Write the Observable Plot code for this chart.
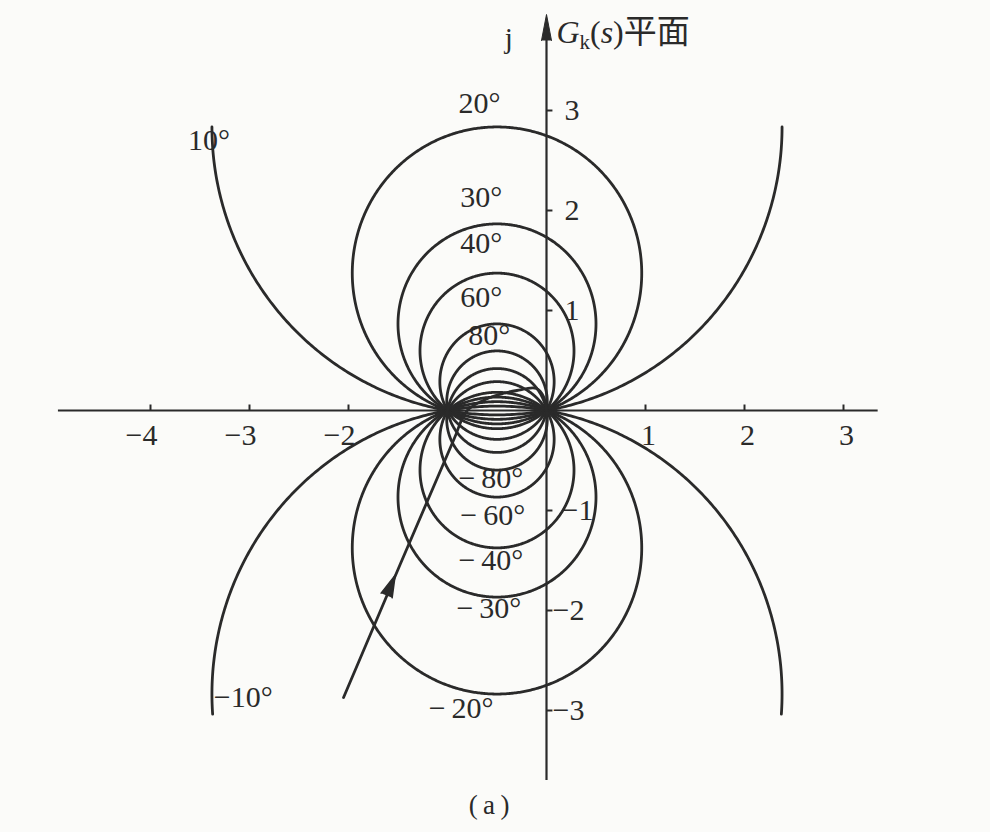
<!DOCTYPE html>
<html><head><meta charset="utf-8">
<script src="https://cdn.jsdelivr.net/npm/d3@7"></script>
<script src="https://cdn.jsdelivr.net/npm/@observablehq/plot@0.6"></script>
<style>
html,body{margin:0;padding:0;background:#fbfbf9;}
#chart{width:990px;height:832px;}
</style></head><body><div id="chart"></div>
<script>
// Constant-phase (N) circles: closed-loop phase angles (degrees)
const phaseAngles = [10, 20, 30, 40, 60, 80, -10, -20, -30, -40, -60, -80];
// visible vertical extent of the outermost (±10°) curves
const curveTop = 2.86, curveBottom = -3.05;

// angle labels (text, position in Gk(s)-plane units, left edge)
const angleLabelText = ["10°", "20°", "30°", "40°", "60°", "80°", "−\u200980°", "−\u200960°", "−\u200940°", "−\u200930°", "−\u200920°", "−10°"];
const angleLabelX = [-3.62, -0.89, -0.87, -0.87, -0.87, -0.79, -0.89, -0.87, -0.89, -0.91, -1.19, -3.36];
const angleLabelY = [2.70, 3.07, 2.13, 1.67, 1.13, 0.75, -0.68, -1.05, -1.50, -1.98, -2.98, -2.87];

// axes ticks
const xTicks = [-4, -3, -2, 1, 2, 3];
const xTickLabels = ["−4", "−3", "−2", "1", "2", "3"];
const yTicks = [3, 2, 1, -1, -2, -3];
const yTickLabels = ["3", "2", "1", "−1", "−2", "−3"];

// G(jω) locus with direction arrow
const locusRe = [-2.05, -0.94, -0.80, -0.57, -0.30, -0.10, -0.03, 0];
const locusIm = [-2.87, -0.30, 0.0, 0.13, 0.20, 0.22, 0.14, 0];
const arrowRe = -1.615, arrowIm = -1.85;

const ink = "#2a2a2a";

// circle geometry from the N-circle relation: centre (-1/2, 1/(2N)), radius 1/(2|sin a|)
const circlePts = [];
for (const a of phaseAngles) {
  const rad = a * Math.PI / 180;
  const cx = -0.5, cy = 1 / (2 * Math.tan(rad)), r = 1 / (2 * Math.abs(Math.sin(rad)));
  const start = a > 0 ? 90 : -90;
  for (let k = 0; k <= 720; k++) {
    const phi = (start + k * 0.5) * Math.PI / 180;
    const x = cx + r * Math.cos(phi), y = cy + r * Math.sin(phi);
    if (y <= curveTop && y >= curveBottom) circlePts.push({a, x, y});
  }
}
const locus = locusRe.map((x, i) => ({x, y: locusIm[i]}));
const angleLabels = angleLabelText.map((t, i) => ({t, x: angleLabelX[i], y: angleLabelY[i]}));

const font = "'Liberation Serif', 'Times New Roman', serif";
const svg = Plot.plot({
  width: 990,
  height: 832,
  x: {domain: [-5.5, 4.5], range: [546 - 5.5 * 99, 546 + 4.5 * 99], axis: null},
  y: {domain: [-4.3, 4.0], range: [410 + 4.3 * 100, 410 - 4.0 * 100], axis: null},
  style: {background: "#fbfbf9", fontFamily: font, overflow: "visible"},
  marks: [
    // axes
    Plot.ruleY([0], {x1: -4.93, x2: 3.35, stroke: ink, strokeWidth: 2.2}),
    Plot.ruleX([0], {y1: -3.7, y2: 3.7, stroke: ink, strokeWidth: 2.2}),
    Plot.vector([{x: 0, y: 3.7}], {x: "x", y: "y", length: 26, r: 5, shape: "spike", anchor: "start", fill: ink, stroke: ink, strokeWidth: 1}),
    Plot.ruleX(xTicks, {x: d => d, y1: 0, y2: 0.055, stroke: ink, strokeWidth: 2}),
    Plot.ruleY(yTicks, {y: d => d, x1: 0, x2: 0.065, stroke: ink, strokeWidth: 2}),
    Plot.text(xTicks, {x: d => d, y: 0, text: (d, i) => xTickLabels[i], dy: 25, fontSize: 30, fill: ink, fontFamily: font}),
    Plot.text(yTicks, {x: 0, y: d => d, text: (d, i) => yTickLabels[i], dx: 15, textAnchor: "start", fontSize: 30, fill: ink, fontFamily: font}),
    // N circles
    Plot.line(circlePts, {x: "x", y: "y", z: "a", stroke: ink, strokeWidth: 2.8, curve: "linear"}),
    // locus
    Plot.line(locus, {x: "x", y: "y", stroke: ink, strokeWidth: 2.8, curve: "catmull-rom"}),
    Plot.vector([{x: arrowRe, y: arrowIm}], {x: "x", y: "y", length: 22, r: 6, rotate: 23, shape: "spike", anchor: "start", fill: ink, stroke: ink, strokeWidth: 1.5}),
    // labels
    Plot.text(angleLabels, {x: "x", y: "y", text: "t", textAnchor: "start", fontSize: 30, fill: ink, fontFamily: font}),
    Plot.text([{x: -0.38, y: 3.72}], {x: "x", y: "y", text: () => "j", fontSize: 29, fill: ink, fontFamily: font}),
    Plot.text([{x: 0.10, y: 3.78}], {x: "x", y: "y", text: () => "Gk(s)平面", textAnchor: "start", fontSize: 32, fill: ink, fontFamily: font}),
    Plot.text([{x: -0.58, y: -3.95}], {x: "x", y: "y", text: () => "(\u2009a\u2009)", fontSize: 27, fill: ink, fontFamily: font})
  ]
});

// rich formatting of the plane title
d3.select(svg).selectAll("text").filter(function () { return this.textContent === "Gk(s)平面"; }).each(function () {
  const t = d3.select(this).text("");
  t.append("tspan").attr("font-style", "italic").text("G");
  t.append("tspan").attr("font-size", 21).attr("dy", 6).text("k");
  t.append("tspan").attr("dy", -6).text("(");
  t.append("tspan").attr("font-style", "italic").text("s");
  t.append("tspan").text(")");
  t.append("tspan").attr("font-family", "'Noto Sans CJK SC'").attr("font-size", 33).text("平面");
});
// x tick labels: shift so that digits sit under the tick
d3.select(svg).selectAll("text").filter(function () { return /^−[234]$/.test(this.textContent); }).attr("dx", -9);
d3.select(svg).selectAll("text").filter(function () { return /^[123]$/.test(this.textContent) && this.getAttribute("text-anchor") !== "start"; }).attr("dx", 3);

document.getElementById("chart").append(svg);
</script>
</body></html>
